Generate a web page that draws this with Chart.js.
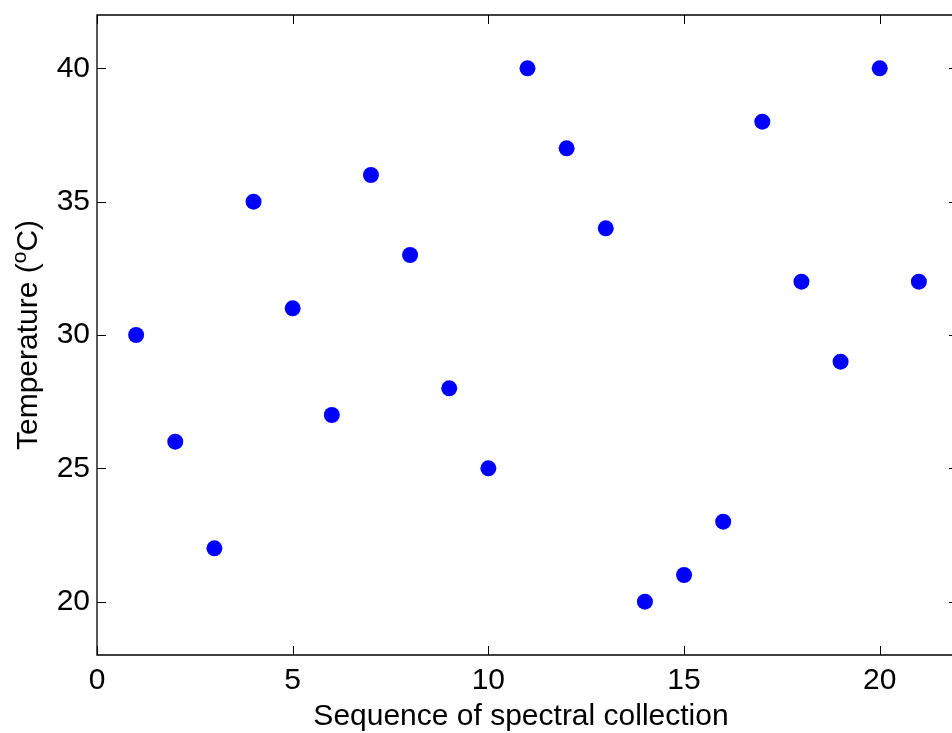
<!DOCTYPE html>
<html>
<head>
<meta charset="utf-8">
<script src="https://cdn.jsdelivr.net/npm/chart.js@4/dist/chart.umd.min.js"></script>
<style>
  html, body { margin: 0; padding: 0; background: #fff; overflow: hidden; }
  #wrap { width: 966px; height: 733px; }
</style>
</head>
<body>
<div id="wrap"><canvas id="c" width="966" height="733"></canvas></div>
<script>
// ---- data ----
const sequence = [1, 2, 3, 4, 5, 6, 7, 8, 9, 10, 11, 12, 13, 14, 15, 16, 17, 18, 19, 20, 21];
const temperature = [30, 26, 22, 35, 31, 27, 36, 33, 28, 25, 40, 37, 34, 20, 21, 23, 38, 32, 29, 40, 32];
const xTicks = [0, 5, 10, 15, 20];
const yTicks = [20, 25, 30, 35, 40];
const xLimits = [0, 22];
const yLimits = [18, 42];
const xTitle = 'Sequence of spectral collection';
const yTitleParts = ['Temperature (', 'o', 'C)'];

const FONT = '"Liberation Sans", Arial, sans-serif';

const points = sequence.map((s, i) => ({ x: s, y: temperature[i] }));

const framePlugin = {
  id: 'frame',
  afterDraw(chart) {
    const ctx = chart.ctx;
    const a = chart.chartArea;
    const xs = chart.scales.x, ys = chart.scales.y;
    ctx.save();
    ctx.strokeStyle = '#000';
    ctx.lineWidth = 1.3;
    ctx.beginPath();
    ctx.rect(a.left, a.top, a.right - a.left, a.bottom - a.top);
    ctx.stroke();
    const tl = 9;
    ctx.lineWidth = 1;
    ctx.beginPath();
    xTicks.forEach(v => {
      const px = Math.round(xs.getPixelForValue(v)) + 0.5;
      ctx.moveTo(px, a.bottom); ctx.lineTo(px, a.bottom - tl);
      ctx.moveTo(px, a.top); ctx.lineTo(px, a.top + tl);
    });
    yTicks.forEach(v => {
      const py = Math.round(ys.getPixelForValue(v)) + 0.5;
      ctx.moveTo(a.left, py); ctx.lineTo(a.left + tl, py);
      ctx.moveTo(a.right, py); ctx.lineTo(a.right - tl, py);
    });
    ctx.stroke();

    // axis titles
    ctx.fillStyle = '#000';
    ctx.font = '30px ' + FONT;
    ctx.textAlign = 'center';
    ctx.textBaseline = 'alphabetic';
    ctx.fillText(xTitle, 521, 725);

    // y title with superscript
    ctx.save();
    const cy = (a.top + a.bottom) / 2;
    ctx.translate(37, cy);
    ctx.rotate(-Math.PI / 2);
    const bigF = '30px ' + FONT, smallF = '21px ' + FONT;
    ctx.font = bigF; const w0 = ctx.measureText(yTitleParts[0]).width;
    ctx.font = smallF; const w1 = ctx.measureText(yTitleParts[1]).width;
    ctx.font = bigF; const w2 = ctx.measureText(yTitleParts[2]).width;
    let x0 = -(w0 + w1 + w2) / 2;
    ctx.textAlign = 'left';
    ctx.font = bigF; ctx.fillText(yTitleParts[0], x0, 0);
    ctx.font = smallF; ctx.fillText(yTitleParts[1], x0 + w0, -11);
    ctx.font = bigF; ctx.fillText(yTitleParts[2], x0 + w0 + w1, 0);
    ctx.restore();
    ctx.restore();
  }
};

new Chart(document.getElementById('c'), {
  type: 'scatter',
  data: {
    datasets: [{
      data: points,
      backgroundColor: '#0000ff',
      borderColor: '#0000ff',
      borderWidth: 0,
      pointRadius: 8,
      pointHoverRadius: 8
    }]
  },
  options: {
    responsive: false,
    animation: false,
    events: [],
    layout: { padding: { top: 15, right: 0, left: 0, bottom: 0 } },
    plugins: { legend: { display: false }, tooltip: { enabled: false } },
    scales: {
      x: {
        type: 'linear',
        min: xLimits[0], max: xLimits[1],
        afterBuildTicks: s => { s.ticks = xTicks.map(v => ({ value: v })); },
        afterFit: s => { s.height = 78; s.paddingLeft = 0; s.paddingRight = 0; },
        grid: { display: false, drawTicks: false },
        border: { display: false },
        ticks: { color: '#000', font: { family: FONT, size: 30 }, padding: 8, maxRotation: 0, autoSkip: false }
      },
      y: {
        type: 'linear',
        min: yLimits[0], max: yLimits[1],
        afterBuildTicks: s => { s.ticks = yTicks.map(v => ({ value: v })); },
        afterFit: s => { s.width = 97; s.paddingTop = 0; s.paddingBottom = 0; },
        grid: { display: false, drawTicks: false },
        border: { display: false },
        ticks: { color: '#000', font: { family: FONT, size: 30 }, padding: 7, autoSkip: false }
      }
    }
  },
  plugins: [framePlugin]
});
</script>
</body>
</html>
